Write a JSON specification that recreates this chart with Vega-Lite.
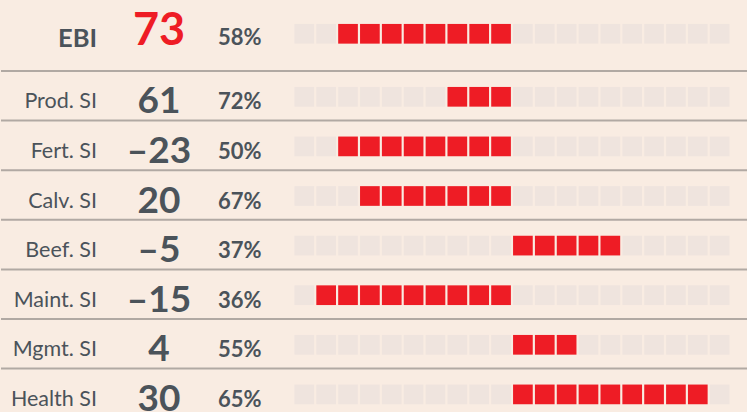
{
  "$schema": "https://vega.github.io/schema/vega-lite/v6.json",
  "background": "#f9ece2",
  "padding": 0,
  "spacing": 0,
  "bounds": "flush",
  "config": {
    "view": {"stroke": null},
    "font": "Lato",
    "locale": {"number": {"decimal": ".", "thousands": ",", "grouping": [3], "currency": ["$", ""], "minus": "–"}}
  },
  "datasets": {
    "rows": [
      {"label": "EBI", "score": 73, "rel": 0.58, "idx": 0, "col": [1,2,3,4,5,6,7,8,9,10,11,12,13,14,15,16,17,18,19,20], "on": [0,0,1,1,1,1,1,1,1,1,0,0,0,0,0,0,0,0,0,0]},
      {"label": "Prod. SI", "score": 61, "rel": 0.72, "idx": 1, "col": [1,2,3,4,5,6,7,8,9,10,11,12,13,14,15,16,17,18,19,20], "on": [0,0,0,0,0,0,0,1,1,1,0,0,0,0,0,0,0,0,0,0]},
      {"label": "Fert. SI", "score": -23, "rel": 0.50, "idx": 2, "col": [1,2,3,4,5,6,7,8,9,10,11,12,13,14,15,16,17,18,19,20], "on": [0,0,1,1,1,1,1,1,1,1,0,0,0,0,0,0,0,0,0,0]},
      {"label": "Calv. SI", "score": 20, "rel": 0.67, "idx": 3, "col": [1,2,3,4,5,6,7,8,9,10,11,12,13,14,15,16,17,18,19,20], "on": [0,0,0,1,1,1,1,1,1,1,0,0,0,0,0,0,0,0,0,0]},
      {"label": "Beef. SI", "score": -5, "rel": 0.37, "idx": 4, "col": [1,2,3,4,5,6,7,8,9,10,11,12,13,14,15,16,17,18,19,20], "on": [0,0,0,0,0,0,0,0,0,0,1,1,1,1,1,0,0,0,0,0]},
      {"label": "Maint. SI", "score": -15, "rel": 0.36, "idx": 5, "col": [1,2,3,4,5,6,7,8,9,10,11,12,13,14,15,16,17,18,19,20], "on": [0,1,1,1,1,1,1,1,1,1,0,0,0,0,0,0,0,0,0,0]},
      {"label": "Mgmt. SI", "score": 4, "rel": 0.55, "idx": 6, "col": [1,2,3,4,5,6,7,8,9,10,11,12,13,14,15,16,17,18,19,20], "on": [0,0,0,0,0,0,0,0,0,0,1,1,1,0,0,0,0,0,0,0]},
      {"label": "Health SI", "score": 30, "rel": 0.65, "idx": 7, "col": [1,2,3,4,5,6,7,8,9,10,11,12,13,14,15,16,17,18,19,20], "on": [0,0,0,0,0,0,0,0,0,0,1,1,1,1,1,1,1,1,1,0]}
    ]
  },
  "vconcat": [
    {
      "width": 747,
      "height": 71,
      "data": {"name": "rows"},
      "transform": [{"filter": "datum.idx == 0"}],
      "layer": [
        {
          "transform": [{"flatten": ["col", "on"]}],
          "mark": {"type": "square", "size": 388, "filled": true, "opacity": 1},
          "encoding": {
            "x": {"field": "col", "type": "quantitative", "scale": {"domain": [-12.875, 21.297], "nice": false, "zero": false}, "axis": null},
            "y": {"field": "idx", "type": "quantitative", "scale": {"domain": [-0.681, 0.75], "nice": false, "zero": false, "reverse": true}, "axis": null},
            "color": {"condition": {"test": "datum.on == 1", "value": "#ee1c25"}, "value": "#efe4de"}
          }
        },
        {
          "mark": {"type": "text", "align": "right", "baseline": "alphabetic", "dy": 12.9, "fontSize": 25.5, "fontWeight": "bold", "color": "#4b535a"},
          "encoding": {
            "x": {"datum": -8.483, "type": "quantitative"},
            "y": {"field": "idx", "type": "quantitative"},
            "text": {"field": "label"}
          }
        },
        {
          "mark": {"type": "text", "align": "center", "baseline": "alphabetic", "dy": 11.2, "fontSize": 45, "fontWeight": "bold", "color": "#ee1c25"},
          "encoding": {
            "x": {"datum": -5.647, "type": "quantitative"},
            "y": {"field": "idx", "type": "quantitative"},
            "text": {"field": "score", "type": "quantitative", "format": "d"}
          }
        },
        {
          "mark": {"type": "text", "align": "center", "baseline": "alphabetic", "dy": 11.2, "fontSize": 22, "fontWeight": "bold", "color": "#4b535a"},
          "encoding": {
            "x": {"datum": -1.95, "type": "quantitative"},
            "y": {"field": "idx", "type": "quantitative"},
            "text": {"field": "rel", "type": "quantitative", "format": ".0%"}
          }
        }
      ]
    },
    {
      "width": 747,
      "height": 341,
      "data": {"name": "rows"},
      "transform": [{"filter": "datum.idx > 0"}],
      "layer": [
        {
          "mark": {"type": "rule", "color": "#b1a9a3", "strokeWidth": 2, "yOffset": -24.8},
          "encoding": {
            "y": {"field": "idx", "type": "quantitative", "scale": {"domain": [0.5, 7.375], "nice": false, "zero": false, "reverse": true}, "axis": null}
          }
        },
        {
          "transform": [{"flatten": ["col", "on"]}],
          "mark": {"type": "square", "size": 388, "filled": true, "opacity": 1, "yOffset": 1},
          "encoding": {
            "x": {"field": "col", "type": "quantitative", "scale": {"domain": [-12.875, 21.297], "nice": false, "zero": false}, "axis": null},
            "y": {"field": "idx", "type": "quantitative"},
            "color": {"condition": {"test": "datum.on == 1", "value": "#ee1c25"}, "value": "#efe4de"}
          }
        },
        {
          "mark": {"type": "text", "align": "right", "baseline": "alphabetic", "dy": 12.5, "fontSize": 21.5, "fontWeight": "normal", "color": "#4b535a"},
          "encoding": {
            "x": {"datum": -8.483, "type": "quantitative"},
            "y": {"field": "idx", "type": "quantitative"},
            "text": {"field": "label"}
          }
        },
        {
          "mark": {"type": "text", "align": "center", "baseline": "alphabetic", "dy": 17.5, "fontSize": 37, "fontWeight": "bold", "color": "#4b535a"},
          "encoding": {
            "x": {"datum": -5.647, "type": "quantitative"},
            "y": {"field": "idx", "type": "quantitative"},
            "text": {"field": "score", "type": "quantitative", "format": "d"}
          }
        },
        {
          "mark": {"type": "text", "align": "center", "baseline": "alphabetic", "dy": 13.5, "fontSize": 22, "fontWeight": "bold", "color": "#4b535a"},
          "encoding": {
            "x": {"datum": -1.95, "type": "quantitative"},
            "y": {"field": "idx", "type": "quantitative"},
            "text": {"field": "rel", "type": "quantitative", "format": ".0%"}
          }
        }
      ]
    }
  ]
}
